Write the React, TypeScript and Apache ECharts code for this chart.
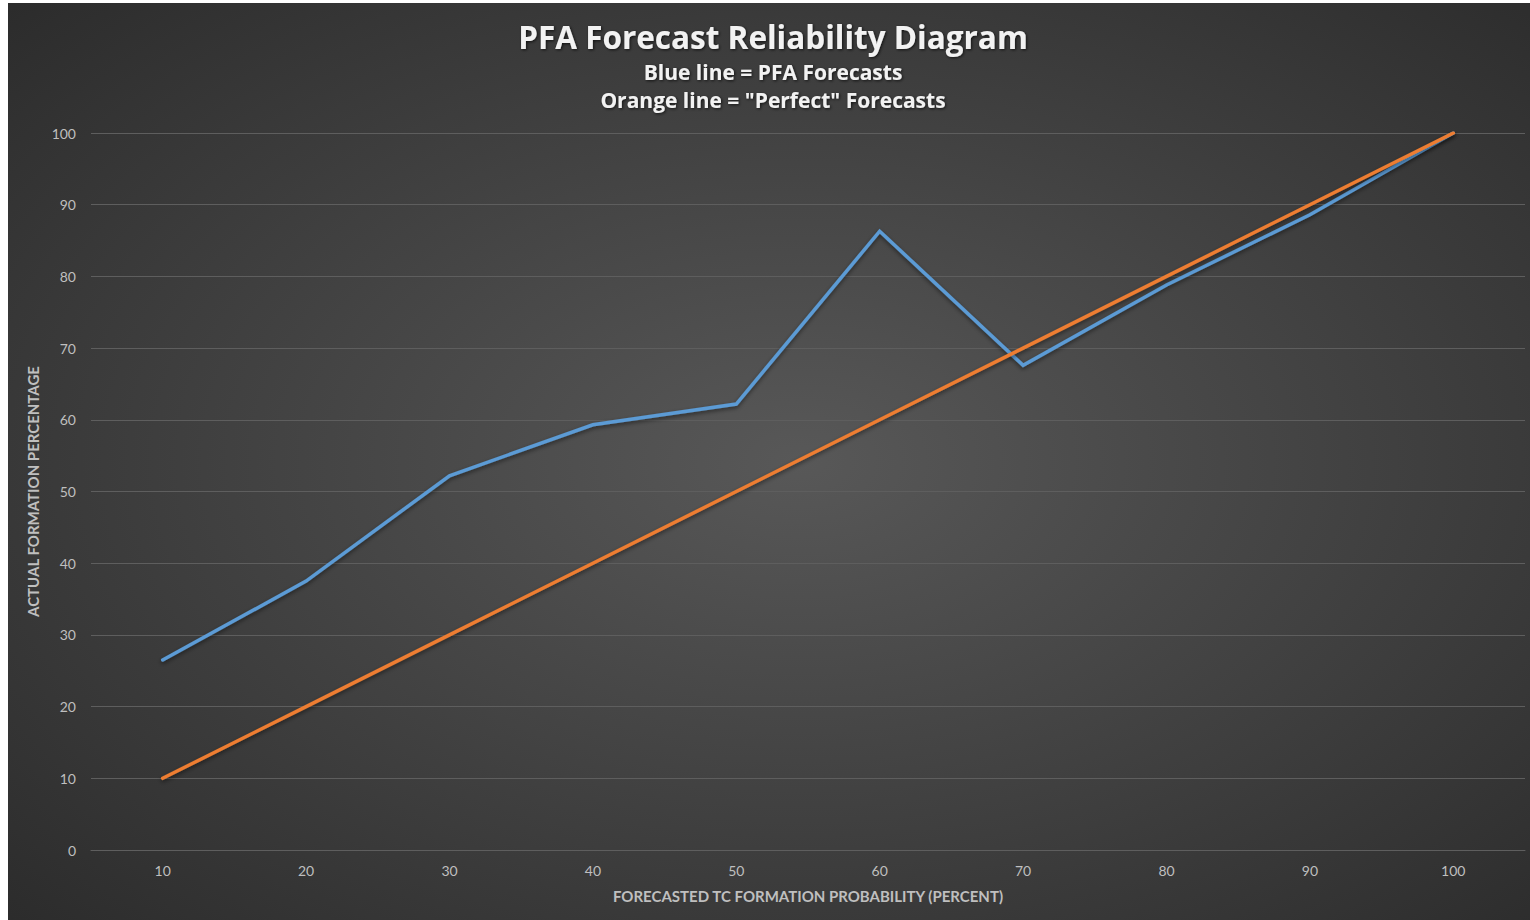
import React, { useEffect, useRef } from "react";
import * as echarts from "echarts";

const categories = ["10", "20", "30", "40", "50", "60", "70", "80", "90", "100"];
const pfaForecasts = [26.5, 37.5, 52.2, 59.3, 62.2, 86.3, 67.6, 78.8, 88.6, 100];
const perfectForecasts = [10, 20, 30, 40, 50, 60, 70, 80, 90, 100];

const titleText = "PFA Forecast Reliability Diagram";
const subtitle1 = "Blue line = PFA Forecasts";
const subtitle2 = 'Orange line = "Perfect" Forecasts';
const yName = "ACTUAL FORMATION PERCENTAGE";
const xName = "FORECASTED TC FORMATION PROBABILITY (PERCENT)";

const FONT = "Lato, 'Open Sans', sans-serif";
const TITLE_FONT = "'Open Sans', Lato, sans-serif";

export default function App() {
  const ref = useRef<HTMLDivElement>(null);
  useEffect(() => {
    if (!ref.current) return;
    const chart = echarts.init(ref.current, null, { renderer: "svg" });
    const headStyle = (text: string, size: number) => ({
      text,
      textAlign: "center",
      textVerticalAlign: "middle",
      fill: "#f2f2f2",
      font: `bold ${size}px ${TITLE_FONT}`,
      textShadowColor: "rgba(0,0,0,0.7)",
      textShadowBlur: 3,
      textShadowOffsetX: 1,
      textShadowOffsetY: 1,
    });
    chart.setOption({
      animation: false,
      backgroundColor: {
        type: "radial",
        x: 0.52,
        y: 0.5,
        r: 0.75,
        colorStops: [
          { offset: 0, color: "#585858" },
          { offset: 1, color: "#2a2a2a" },
        ],
      },
      graphic: [
        { type: "text", x: 765, y: 33, style: headStyle(titleText, 31.5) },
        { type: "text", x: 765, y: 69, style: headStyle(subtitle1, 21) },
        { type: "text", x: 765, y: 97, style: headStyle(subtitle2, 21) },
      ],
      grid: { left: 83, right: 5, top: 130, bottom: 70, containLabel: false },
      xAxis: {
        type: "category",
        data: categories,
        boundaryGap: true,
        name: xName,
        nameLocation: "middle",
        nameGap: 38,
        nameTextStyle: { color: "#bfbfbf", fontSize: 15, fontWeight: "bold", fontFamily: FONT },
        axisLine: { show: true, lineStyle: { color: "#5e5e5e", width: 1 } },
        axisTick: { show: false },
        axisLabel: { color: "#bfbfbf", fontSize: 14, margin: 13, fontFamily: FONT },
        splitLine: { show: false },
      },
      yAxis: {
        type: "value",
        min: 0,
        max: 100,
        interval: 10,
        name: yName,
        nameLocation: "middle",
        nameGap: 36,
        nameTextStyle: { color: "#bfbfbf", fontSize: 15, fontWeight: "bold", fontFamily: FONT },
        axisLine: { show: false },
        axisTick: { show: false },
        axisLabel: { color: "#bfbfbf", fontSize: 14, margin: 15, fontFamily: FONT },
        splitLine: { show: true, lineStyle: { color: "#5e5e5e", width: 1 } },
      },
      series: [
        {
          name: "PFA Forecasts",
          type: "line",
          data: pfaForecasts,
          symbol: "none",
          lineStyle: { color: "#5b9bd5", width: 3.5, cap: "round", join: "miter", shadowColor: "rgba(0,0,0,0.5)", shadowBlur: 4, shadowOffsetY: 2 },
        },
        {
          name: "Perfect Forecasts",
          type: "line",
          data: perfectForecasts,
          symbol: "none",
          lineStyle: { color: "#ed7d31", width: 3.5, cap: "round", join: "miter", shadowColor: "rgba(0,0,0,0.5)", shadowBlur: 4, shadowOffsetY: 2 },
        },
      ],
    });
    return () => chart.dispose();
  }, []);
  return (
    <div
      ref={ref}
      style={{ position: "absolute", left: 8, top: 3, width: 1522, height: 917 }}
    />
  );
}
